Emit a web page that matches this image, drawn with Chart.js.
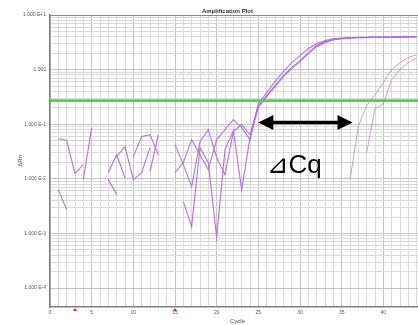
<!DOCTYPE html>
<html>
<head>
<meta charset="utf-8">
<script src="https://cdn.jsdelivr.net/npm/chart.js@4.4.1/dist/chart.umd.min.js"></script>
<style>
body{margin:0;background:#fff;overflow:hidden;}
</style>
</head>
<body>
<canvas id="ampChart" width="430" height="325"></canvas>
<script>
// cycles 1..44
const cycles = [1,2,3,4,5,6,7,8,9,10,11,12,13,14,15,16,17,18,19,20,21,22,23,24,25,26,27,28,29,30,31,32,33,34,35,36,37,38,39,40,41,42,43,44];

// early replicates (dRn, null = negative, not drawn on log axis)
const early1 = [0.0545,0.050,0.01245,0.0182,null,null,0.0130,0.0277,0.0105,null,null,0.01355,0.0645,null,
  0.0423,0.0182,0.0072,0.048,0.0796,0.0244,0.0119,0.0732,0.0984,0.0645,
  0.219,0.334,0.509,0.776,1.088,1.462,2.049,2.752,3.258,3.541,3.696,3.856,3.856,3.9,3.9,3.94,3.94,3.94,3.98,3.98];
const early2 = [0.00634,0.00273,null,0.00966,0.0867,null,0.00966,0.00514,null,0.0255,0.0593,0.0645,0.0277,null,
  0.0130,0.0198,0.0522,0.0277,0.0147,0.0522,0.0796,0.1214,0.0867,0.0522,
  0.238,0.379,0.603,0.919,1.343,1.804,2.424,2.993,3.397,3.696,3.774,3.856,3.9,3.9,3.94,3.94,3.98,3.98,4.02,4.02];
const early3 = [null,null,null,null,null,null,null,0.0255,0.0389,0.00966,0.0130,0.0373,null,null,
  null,0.00382,0.00133,0.0373,0.0198,0.000838,0.0343,0.0764,0.00634,0.0569,
  0.201,0.320,0.488,0.745,1.043,1.402,1.964,2.637,3.124,3.541,3.696,3.774,3.856,3.856,3.9,3.9,3.94,3.94,3.94,3.98];

// late replicates
const late1 = [null,null,null,null,null,null,null,null,null,null,null,null,null,null,null,null,null,null,null,null,
  null,null,null,null,null,null,null,null,null,null,null,null,null,null,null,
  0.00966,0.0904,0.219,0.348,0.578,1.0,1.343,1.659,1.883];
const late2 = [null,null,null,null,null,null,null,null,null,null,null,null,null,null,null,null,null,null,null,null,
  null,null,null,null,null,null,null,null,null,null,null,null,null,null,null,null,null,
  0.0302,0.193,0.238,0.656,1.0,1.343,1.659];

const threshold = 0.27;

// y axis ticks (decades) and labels
const yTickValues = [10, 1, 0.1, 0.01, 0.001, 0.0001];
const yTickLabels = ['1.000 E+1', '1.000', '1.000 E-1', '1.000 E-2', '1.000 E-3', '1.000 E-4'];
const xTickLabels = ['0','5','10','15','20','25','30','35','40'];

const yMin = 0.000045, yMax = 10;
const xMin = 0, xMax = 45;

// annotation
const titleText = 'Amplification Plot';
const arrowFrom = 25, arrowTo = 36.3, arrowValue = 0.107;
const labelText = '\u22BFCq', labelCycle = 26, labelValue = 0.013;
const redMarks = [3, 15];

function pts(arr){
  return cycles.map((c,i)=>({x:c, y:arr[i]}));
}

const earlyColor = 'rgba(175,110,215,0.9)';
const lateColor = 'rgba(195,135,195,0.9)';

const extras = {
  id: 'extras',
  afterDraw(chart){
    const {ctx, chartArea:a, scales:{x, y}} = chart;
    ctx.save();
    // top border
    ctx.strokeStyle = '#8a8a8a'; ctx.lineWidth = 1;
    ctx.beginPath(); ctx.moveTo(a.left, a.top+0.5); ctx.lineTo(a.right, a.top+0.5); ctx.stroke();
    // title
    ctx.fillStyle = '#333';
    ctx.font = 'bold 6px "Liberation Sans"';
    ctx.textAlign = 'center'; ctx.textBaseline = 'bottom';
    ctx.fillText(titleText, x.getPixelForValue(21.3), a.top - 1);
    // red markers under axis
    ctx.fillStyle = '#e02020';
    redMarks.forEach(c=>{
      const px = x.getPixelForValue(c);
      ctx.beginPath();
      ctx.moveTo(px, a.bottom+1); ctx.lineTo(px+2, a.bottom+4); ctx.lineTo(px-2, a.bottom+4);
      ctx.closePath(); ctx.fill();
    });
    // double arrow
    const ay = y.getPixelForValue(arrowValue);
    const x1 = x.getPixelForValue(arrowFrom), x2 = x.getPixelForValue(arrowTo);
    const hl = 15, hw = 7.5;
    ctx.strokeStyle = '#000'; ctx.fillStyle = '#000'; ctx.lineWidth = 3.5;
    ctx.beginPath(); ctx.moveTo(x1+hl-2, ay); ctx.lineTo(x2-hl+2, ay); ctx.stroke();
    ctx.beginPath(); ctx.moveTo(x1, ay); ctx.lineTo(x1+hl, ay-hw); ctx.lineTo(x1+hl, ay+hw); ctx.closePath(); ctx.fill();
    ctx.beginPath(); ctx.moveTo(x2, ay); ctx.lineTo(x2-hl, ay-hw); ctx.lineTo(x2-hl, ay+hw); ctx.closePath(); ctx.fill();
    // delta Cq label
    ctx.font = '26px "Liberation Sans", "DejaVu Sans"';
    ctx.textAlign = 'left'; ctx.textBaseline = 'alphabetic';
    ctx.fillText(labelText, x.getPixelForValue(labelCycle), y.getPixelForValue(labelValue));
    ctx.restore();
  }
};

const line = (arr, color, w) => ({
  data: pts(arr), borderColor: color, borderWidth: w, pointRadius: 0, tension: 0, spanGaps: false
});

new Chart(document.getElementById('ampChart'), {
  type: 'line',
  data: {
    datasets: [
      {data: [{x:xMin, y:threshold},{x:xMax, y:threshold}], borderColor: '#4fd24f', borderWidth: 2.6, pointRadius: 0},
      line(early1, earlyColor, 1.2),
      line(early2, earlyColor, 1.2),
      line(early3, earlyColor, 1.2),
      line(late1, lateColor, 0.9),
      line(late2, lateColor, 0.9)
    ]
  },
  options: {
    responsive: false,
    animation: false,
    layout: {padding: {top: 15, right: 5, left: 0, bottom: 0}},
    plugins: {legend: {display: false}, tooltip: {enabled: false}},
    scales: {
      x: {
        type: 'linear', min: xMin, max: xMax,
        afterFit: s => { s.height = 18; },
        ticks: {
          stepSize: 1, autoSkip: false, maxRotation: 0, padding: 3,
          font: {family: 'Liberation Sans', size: 5}, color: '#555',
          callback: v => (v % 5 === 0 && xTickLabels.includes(String(v))) ? String(v) : ''
        },
        grid: {
          drawTicks: false,
          color: c => (c.tick && c.tick.value % 5 === 0) ? '#c4c4c4' : '#dadada',
          lineWidth: 1
        },
        border: {color: '#808080', width: 1.5},
        title: {display: true, text: 'Cycle', font: {family: 'Liberation Sans', size: 6}, color: '#444', padding: 0}
      },
      y: {
        type: 'logarithmic', min: yMin, max: yMax,
        afterFit: s => { s.width = 50; },
        afterBuildTicks: s => {
          const t = [];
          yTickValues.forEach(d => {
            for (let m = 1; m <= 9; m++) {
              const v = d * m;
              if (v >= yMin && v <= yMax) t.push({value: v});
            }
          });
          t.sort((p, q) => p.value - q.value);
          s.ticks = t;
        },
        ticks: {
          autoSkip: false, padding: 4,
          font: {family: 'Liberation Sans', size: 5}, color: '#555',
          callback: v => {
            const i = yTickValues.findIndex(d => Math.abs(d - v) / d < 1e-6);
            return i >= 0 ? yTickLabels[i] : '';
          }
        },
        grid: {
          drawTicks: false,
          color: c => {
            const v = c.tick ? c.tick.value : 0;
            return yTickValues.some(d => Math.abs(d - v) / d < 1e-6) ? '#c4c4c4' : '#dadada';
          },
          lineWidth: 1
        },
        border: {color: '#808080', width: 1.5},
        title: {display: true, text: '\u0394Rn', font: {family: 'Liberation Sans', size: 6}, color: '#444', padding: {top: 17, bottom: 0}}
      }
    }
  },
  plugins: [extras]
});
</script>
</body>
</html>
